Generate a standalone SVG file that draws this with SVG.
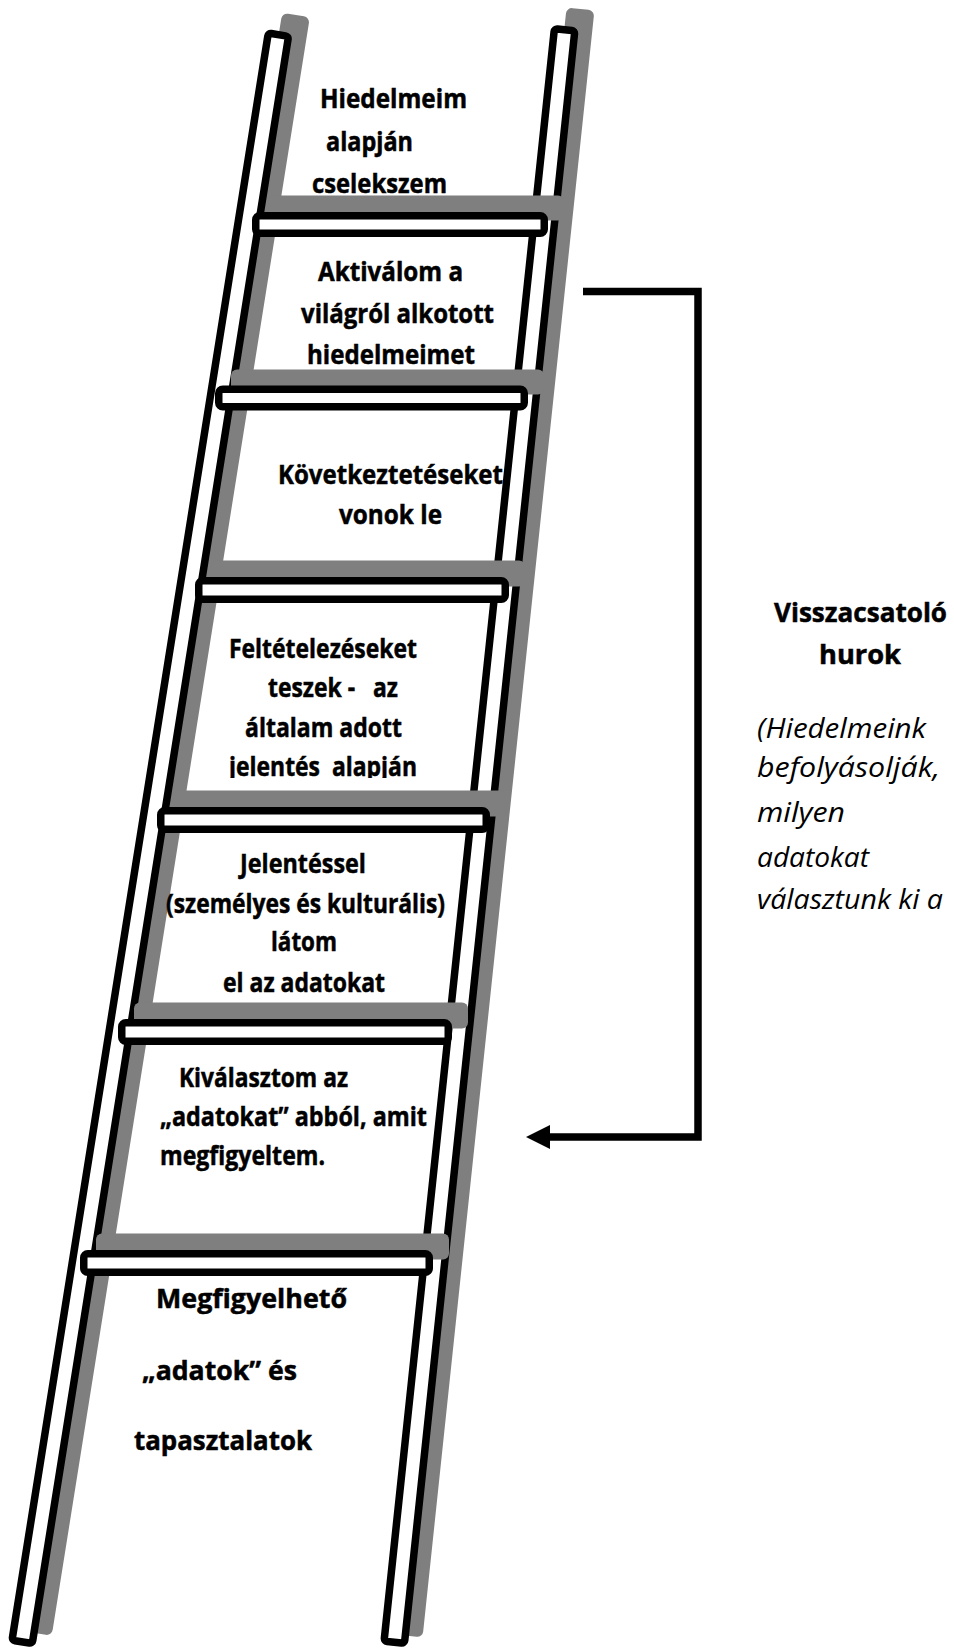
<svg xmlns="http://www.w3.org/2000/svg" width="954" height="1650" viewBox="0 0 954 1650">
  <style>
    .shade { fill: #7f7f7f; }
    .rail { fill: #ffffff; stroke: #000000; stroke-width: 7.5; }
    .rung { fill: #ffffff; stroke: #000000; stroke-width: 7.5; }
    .lbl { font-family: "Open Sans", "Liberation Sans", sans-serif; font-weight: 700; font-size: 27px; fill: #000000; stroke: #000000; stroke-width: 0.5; white-space: pre; }
    .note { font-family: "Open Sans", "Liberation Sans", sans-serif; font-style: italic; font-size: 26.5px; fill: #000000; white-space: pre; }
    .loop { fill: none; stroke: #000000; stroke-width: 7.5; stroke-linejoin: miter; }
  </style>
  <defs>
    <clipPath id="clip-step3">
      <rect x="150" y="600" width="340" height="178"/>
    </clipPath>
  </defs>

  <rect x="0" y="0" width="954" height="1650" fill="#ffffff"/>

  <!-- rail shadows -->
  <g id="rail-shadows">
    <rect class="shade" x="-14" y="0" width="28" height="1639" rx="6" transform="translate(296 15) rotate(9.06)"/>
    <rect class="shade" x="-14" y="0" width="28" height="1636" rx="6" transform="translate(580.5 9) rotate(6.03)"/>
  </g>

  <!-- ladder steps, top to bottom -->
  <g id="step-act">
    <text class="lbl" x="320" y="108" textLength="147" lengthAdjust="spacingAndGlyphs">Hiedelmeim</text>
    <text class="lbl" x="326" y="151" textLength="87" lengthAdjust="spacingAndGlyphs">alapján</text>
    <text class="lbl" x="312" y="193" textLength="135" lengthAdjust="spacingAndGlyphs">cselekszem</text>
  </g>
  <g id="step-beliefs">
    <text class="lbl" x="318" y="281" textLength="145" lengthAdjust="spacingAndGlyphs">Aktiválom a</text>
    <text class="lbl" x="301" y="323" textLength="193" lengthAdjust="spacingAndGlyphs">világról alkotott</text>
    <text class="lbl" x="307" y="364" textLength="168" lengthAdjust="spacingAndGlyphs">hiedelmeimet</text>
  </g>
  <g id="step-conclusions">
    <text class="lbl" x="278" y="484" textLength="225" lengthAdjust="spacingAndGlyphs">Következtetéseket</text>
    <text class="lbl" x="339" y="524" textLength="103" lengthAdjust="spacingAndGlyphs">vonok le</text>
  </g>
  <g id="step-assumptions" clip-path="url(#clip-step3)">
    <text class="lbl" x="229" y="658" textLength="188" lengthAdjust="spacingAndGlyphs">Feltételezéseket</text>
    <text class="lbl" x="268" y="697" textLength="130" lengthAdjust="spacingAndGlyphs">teszek -   az</text>
    <text class="lbl" x="245" y="737" textLength="157" lengthAdjust="spacingAndGlyphs">általam adott</text>
    <text class="lbl" x="229" y="776" textLength="188" lengthAdjust="spacingAndGlyphs">jelentés  alapján</text>
  </g>
  <g id="step-meaning">
    <text class="lbl" x="240" y="873" textLength="126" lengthAdjust="spacingAndGlyphs">Jelentéssel</text>
    <text class="lbl" x="166" y="913" textLength="279" lengthAdjust="spacingAndGlyphs">(személyes és kulturális)</text>
    <text class="lbl" x="271" y="951" textLength="66" lengthAdjust="spacingAndGlyphs">látom</text>
    <text class="lbl" x="223" y="992" textLength="162" lengthAdjust="spacingAndGlyphs">el az adatokat</text>
  </g>
  <g id="step-select">
    <text class="lbl" x="179" y="1087" textLength="169" lengthAdjust="spacingAndGlyphs">Kiválasztom az</text>
    <text class="lbl" x="160" y="1126" textLength="267" lengthAdjust="spacingAndGlyphs">„adatokat” abból, amit</text>
    <text class="lbl" x="160" y="1165" textLength="165" lengthAdjust="spacingAndGlyphs">megfigyeltem.</text>
  </g>
  <g id="step-data">
    <text class="lbl" x="156" y="1308" textLength="191" lengthAdjust="spacingAndGlyphs">Megfigyelhető</text>
    <text class="lbl" x="142" y="1380" textLength="155" lengthAdjust="spacingAndGlyphs">„adatok” és</text>
    <text class="lbl" x="134" y="1450" textLength="178" lengthAdjust="spacingAndGlyphs">tapasztalatok</text>
  </g>

  <!-- rails -->
  <g id="rails">
    <rect class="rail" x="-10.25" y="3.75" width="20.5" height="1627.5" rx="3" transform="translate(279 31) rotate(9.06)"/>
    <rect class="rail" x="-10.25" y="3.75" width="20.5" height="1621.5" rx="3" transform="translate(565 26) rotate(6.03)"/>
  </g>

  <!-- rung shadows -->
  <g id="rung-shadows">
    <rect class="shade" x="268" y="195.5" width="296" height="25" rx="6"/>
    <rect class="shade" x="231" y="369.5" width="313" height="25" rx="6"/>
    <rect class="shade" x="211" y="560.5" width="314" height="26" rx="6"/>
    <rect class="shade" x="173" y="790.5" width="333" height="26" rx="6"/>
    <rect class="shade" x="134" y="1002.5" width="334" height="26" rx="6"/>
    <rect class="shade" x="96" y="1233.5" width="353" height="26" rx="6"/>
  </g>

  <!-- rungs -->
  <g id="rungs">
    <rect class="rung" x="255.75" y="215.75" width="288.5" height="17.5" rx="4"/>
    <rect class="rung" x="218.75" y="389.25" width="305.5" height="17.5" rx="4"/>
    <rect class="rung" x="198.75" y="580.75" width="306.5" height="18.5" rx="4"/>
    <rect class="rung" x="160.75" y="810.75" width="325.5" height="18.5" rx="4"/>
    <rect class="rung" x="121.75" y="1022.75" width="326.5" height="18.5" rx="4"/>
    <rect class="rung" x="83.75" y="1253.75" width="345.5" height="18.5" rx="4"/>
  </g>

  <!-- feedback loop label -->
  <g id="feedback-loop">
    <text class="lbl" x="774" y="622" textLength="173" lengthAdjust="spacingAndGlyphs">Visszacsatoló</text>
    <text class="lbl" x="819" y="664" textLength="82" lengthAdjust="spacingAndGlyphs">hurok</text>
    <text class="note" x="757" y="738" textLength="169" lengthAdjust="spacingAndGlyphs">(Hiedelmeink</text>
    <text class="note" x="757" y="777" textLength="183" lengthAdjust="spacingAndGlyphs">befolyásolják,</text>
    <text class="note" x="757" y="822" textLength="88" lengthAdjust="spacingAndGlyphs">milyen</text>
    <text class="note" x="757" y="867" textLength="112" lengthAdjust="spacingAndGlyphs">adatokat</text>
    <text class="note" x="757" y="909" textLength="186" lengthAdjust="spacingAndGlyphs">választunk ki a</text>
  </g>

  <!-- connectors -->
  <g id="connectors">
    <path class="loop" d="M583 291.5 H698 V1137 H548"/>
    <polygon points="526,1137 550,1125 550,1149" fill="#000000"/>
  </g>
</svg>
